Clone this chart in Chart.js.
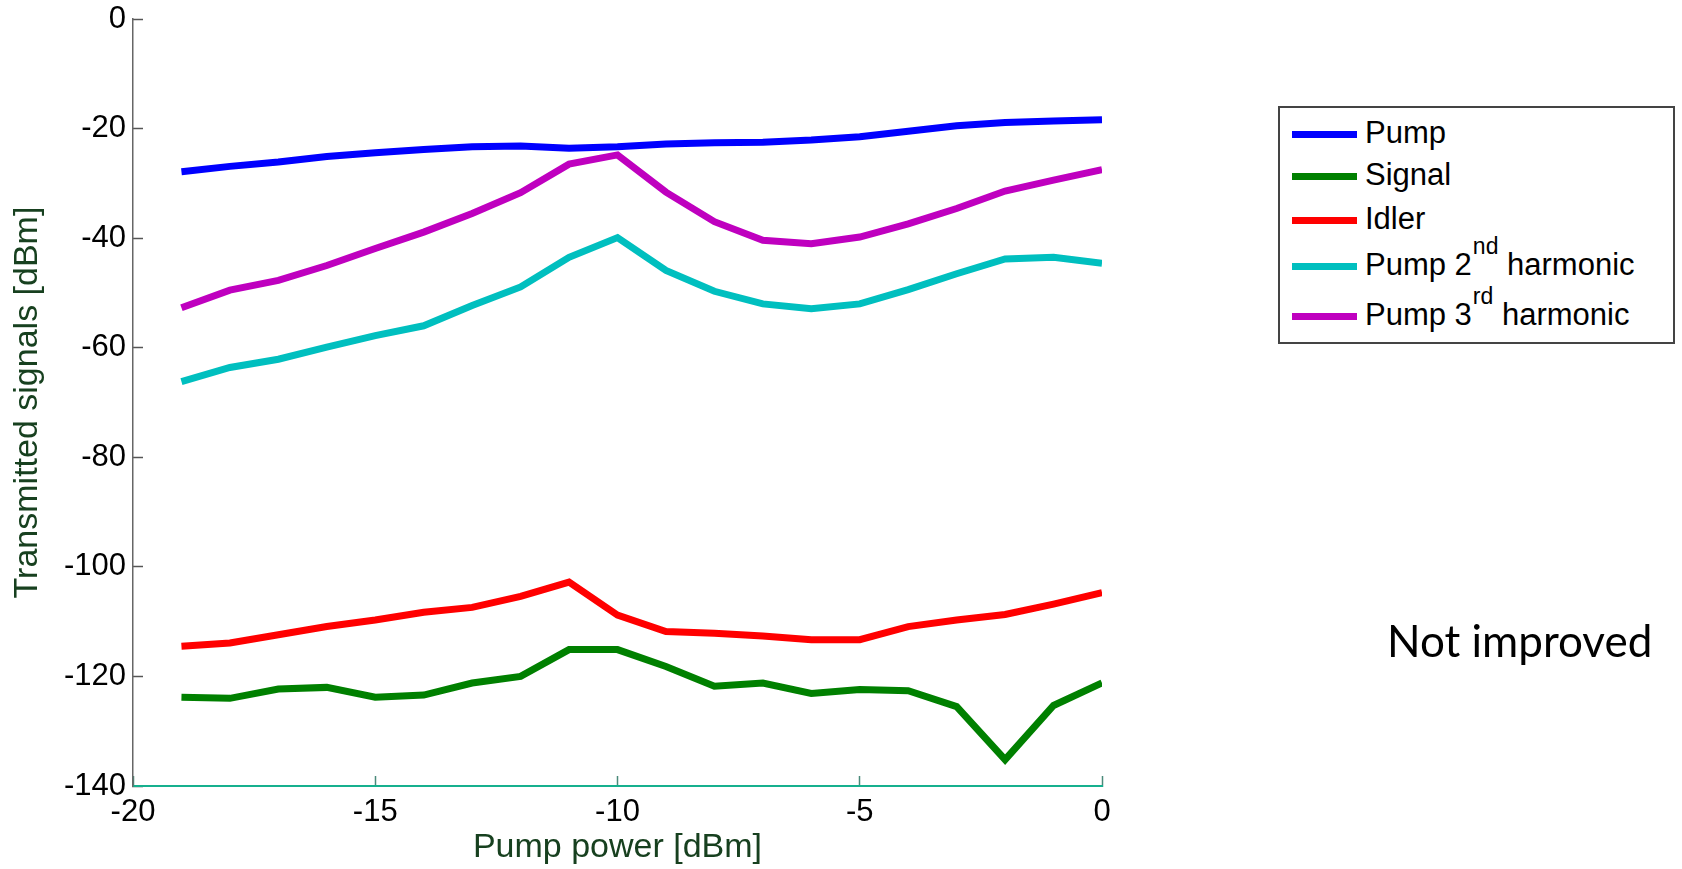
<!DOCTYPE html>
<html>
<head>
<meta charset="utf-8">
<script src="https://cdn.jsdelivr.net/npm/chart.js@4.4.1/dist/chart.umd.min.js"></script>
<style>
  html, body { margin: 0; padding: 0; background: #ffffff; }
  #wrap { position: relative; width: 1682px; height: 869px; }
  #wrap canvas { position: absolute; left: 0; top: 0; }
  .legend {
    position: absolute; left: 1278px; top: 106px; width: 397px; height: 238px;
    border: 2px solid #444; box-sizing: border-box; background: #fff;
    font-family: "Liberation Sans", Arial, sans-serif; font-size: 31px; color: #000;
  }
  .row { position: absolute; left: 0; height: 0; }
  .row .swatch { position: absolute; left: 12px; top: -3.5px; width: 65px; height: 7px; }
  .row .txt { position: absolute; left: 85px; top: -18px; white-space: nowrap; line-height: 34px; }
  .row sup { font-size: 23px; position: relative; top: -2px; vertical-align: top; line-height: 0; margin-left: 1px; }
  .note {
    position: absolute; left: 1387px; top: 614px;
    font-family: Lato, "Open Sans", sans-serif; font-size: 44px; color: #000; white-space: nowrap;
  }
</style>
</head>
<body>
<div id="wrap">
  <canvas id="c" width="1682" height="869"></canvas>
  <div class="legend" id="legend"></div>
  <div class="note">Not improved</div>
</div>
<script>
// Pump power sweep [dBm]
const pumpPower = [-19, -18, -17, -16, -15, -14, -13, -12, -11, -10, -9, -8, -7, -6, -5, -4, -3, -2, -1, 0];

// Transmitted power of each spectral component [dBm]
const pump = [-27.9, -26.9, -26.1, -25.1, -24.4, -23.8, -23.3, -23.2, -23.6, -23.3, -22.8, -22.6, -22.5, -22.1, -21.5, -20.5, -19.5, -18.9, -18.6, -18.4];
const signal = [-123.8, -124.0, -122.3, -122.0, -123.8, -123.4, -121.2, -120.0, -115.1, -115.1, -118.2, -121.8, -121.2, -123.1, -122.4, -122.6, -125.5, -135.2, -125.3, -121.2];
const idler = [-114.5, -113.9, -112.4, -110.9, -109.7, -108.3, -107.4, -105.4, -102.8, -108.8, -111.8, -112.1, -112.6, -113.3, -113.3, -110.9, -109.7, -108.7, -106.8, -104.7];
const harmonic2 = [-66.2, -63.6, -62.1, -59.9, -57.8, -56.0, -52.3, -48.9, -43.5, -39.9, -45.9, -49.7, -52.0, -52.9, -52.0, -49.4, -46.5, -43.8, -43.5, -44.6];
const harmonic3 = [-52.7, -49.5, -47.7, -45.0, -41.9, -38.9, -35.5, -31.7, -26.5, -24.8, -31.6, -37.0, -40.4, -41.0, -39.8, -37.4, -34.6, -31.4, -29.4, -27.5];

// Axis ticks
const xTicks = [-20, -15, -10, -5, 0];
const yTicks = [0, -20, -40, -60, -80, -100, -120, -140];

const seriesNames = ['Pump', 'Signal', 'Idler', 'Pump 2nd harmonic', 'Pump 3rd harmonic'];
const seriesSup = [null, null, null, ['Pump 2', 'nd', ' harmonic'], ['Pump 3', 'rd', ' harmonic']];
const seriesValues = [pump, signal, idler, harmonic2, harmonic3];
const seriesColors = ['#0000ff', '#008000', '#ff0000', '#00bfbf', '#bf00bf'];

const FONT = '"Liberation Sans", Arial, sans-serif';
const TITLE_COLOR = '#17401f';

const datasets = seriesValues.map((vals, i) => ({
  label: seriesNames[i],
  data: pumpPower.map((x, k) => ({ x: x, y: vals[k] })),
  borderColor: seriesColors[i],
  backgroundColor: seriesColors[i],
  borderWidth: 7,
  pointRadius: 0,
  tension: 0,
  fill: false,
  order: seriesValues.length - i
}));

new Chart(document.getElementById('c'), {
  type: 'line',
  data: { datasets: datasets },
  options: {
    responsive: false,
    animation: false,
    events: [],
    layout: { padding: { left: 0, top: 19, right: 580, bottom: 0 } },
    plugins: { legend: { display: false }, tooltip: { enabled: false } },
    scales: {
      x: {
        type: 'linear',
        min: -20, max: 0,
        afterFit: s => { s.height = 83; s.paddingLeft = 0; s.paddingRight = 0; },
        afterBuildTicks: s => { s.ticks = xTicks.map(v => ({ value: v })); },
        grid: { drawOnChartArea: false, drawTicks: true, tickLength: -10, color: '#4a8a7a', tickWidth: 1.5 },
        border: { display: true, color: '#16b08e', width: 2 },
        ticks: { color: '#000', padding: 18, maxRotation: 0, font: { family: FONT, size: 31 } },
        title: { display: true, text: 'Pump power [dBm]', color: TITLE_COLOR, padding: { top: 0, bottom: 1 }, font: { family: FONT, size: 34 } }
      },
      y: {
        type: 'linear',
        min: -140, max: 0,
        afterFit: s => { s.width = 133; s.paddingTop = 0; s.paddingBottom = 0; },
        afterBuildTicks: s => { s.ticks = yTicks.map(v => ({ value: v })); },
        grid: { drawOnChartArea: false, drawTicks: true, tickLength: -10, color: '#555', tickWidth: 1.5 },
        border: { display: true, color: '#666', width: 1.5 },
        ticks: { color: '#000', padding: 17, font: { family: FONT, size: 31 } },
        title: { display: true, text: 'Transmitted signals [dBm]', color: TITLE_COLOR, padding: { top: 7, bottom: 0 }, font: { family: FONT, size: 34 } }
      }
    }
  }
});

// Legend rows (HTML so the ordinal suffixes can be superscripts)
const rowY = [26, 68, 112, 158, 208];
const legend = document.getElementById('legend');
seriesNames.forEach((name, i) => {
  const row = document.createElement('div');
  row.className = 'row';
  row.style.top = rowY[i] + 'px';
  const sw = document.createElement('div');
  sw.className = 'swatch';
  sw.style.background = seriesColors[i];
  const txt = document.createElement('div');
  txt.className = 'txt';
  if (seriesSup[i]) {
    txt.appendChild(document.createTextNode(seriesSup[i][0]));
    const sup = document.createElement('sup');
    sup.textContent = seriesSup[i][1];
    txt.appendChild(sup);
    txt.appendChild(document.createTextNode(seriesSup[i][2]));
  } else {
    txt.textContent = name;
  }
  row.appendChild(sw);
  row.appendChild(txt);
  legend.appendChild(row);
});
</script>
</body>
</html>
